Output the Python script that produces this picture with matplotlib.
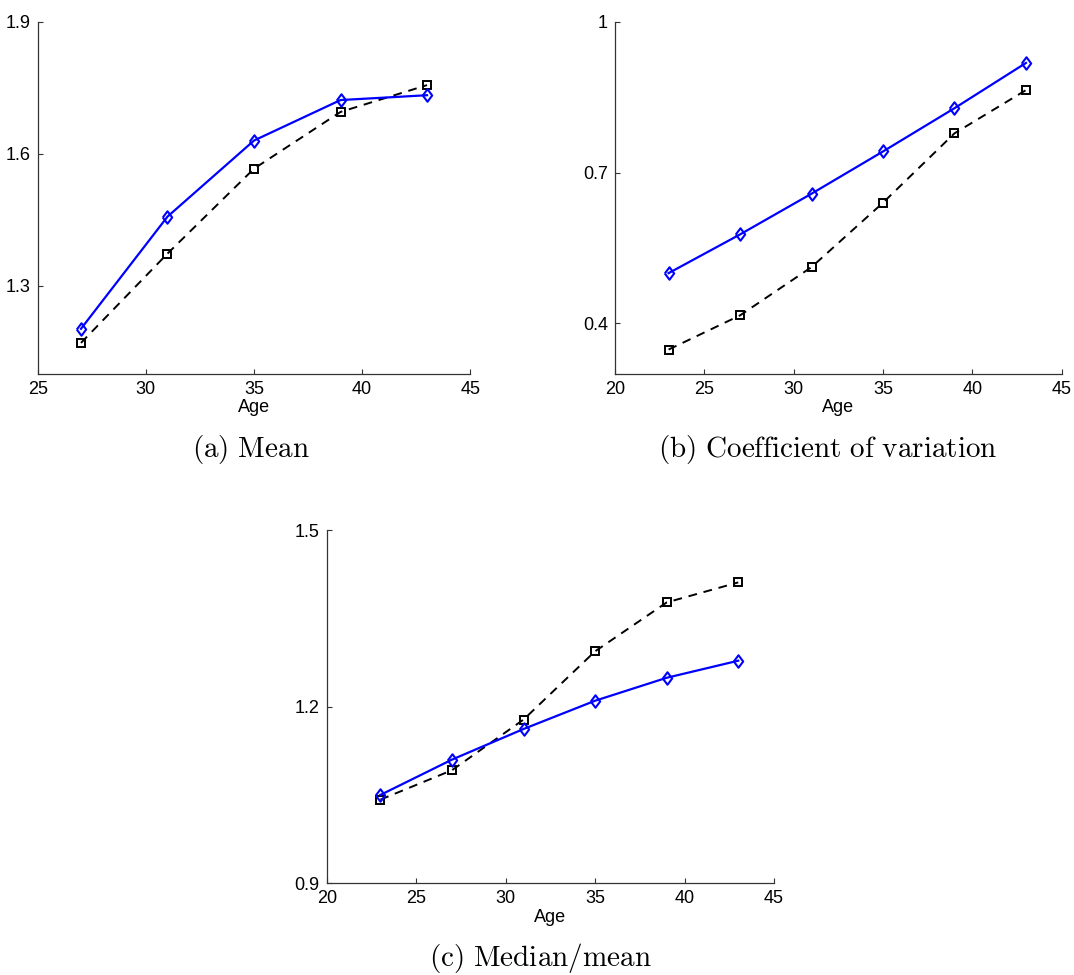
import matplotlib
matplotlib.use("Agg")
import matplotlib.pyplot as plt

plt.rcParams['font.family'] = ['Liberation Sans', 'DejaVu Sans']
plt.rcParams['mathtext.fontset'] = 'cm'

ages_a = [27, 31, 35, 39, 43]
mean_blue = [1.202, 1.457, 1.630, 1.722, 1.733]
mean_black = [1.170, 1.373, 1.566, 1.695, 1.756]

ages_bc = [23, 27, 31, 35, 39, 43]
cv_blue = [0.500, 0.577, 0.658, 0.742, 0.828, 0.918]
cv_black = [0.348, 0.416, 0.512, 0.640, 0.778, 0.864]

mm_blue = [1.050, 1.110, 1.162, 1.210, 1.249, 1.278]
mm_black = [1.042, 1.092, 1.178, 1.294, 1.377, 1.411]

captions = ['(a)\\ Mean', '(b)\\ Coefficient\\ of\\ variation', '(c)\\ Median/mean']

diamond = [(-0.75, 0), (0, 1), (0.75, 0), (0, -1), (-0.75, 0)]

fig = plt.figure(figsize=(10.74, 9.75), dpi=100)

specs = [
    dict(rect=[0.0351, 0.6167, 0.4028, 0.361], x=ages_a, b=mean_blue, k=mean_black,
         xlim=(25, 45), xt=[25, 30, 35, 40, 45], ylim=(1.1, 1.9), yt=[1.3, 1.6, 1.9],
         ytl=['1.3', '1.6', '1.9'], cpos=(251, 449)),
    dict(rect=[0.5726, 0.6167, 0.4159, 0.361], x=ages_bc, b=cv_blue, k=cv_black,
         xlim=(20, 45), xt=[20, 25, 30, 35, 40, 45], ylim=(0.3, 1.0), yt=[0.4, 0.7, 1.0],
         ytl=['0.4', '0.7', '1'], cpos=(828, 449)),
    dict(rect=[0.3042, 0.0941, 0.4165, 0.3623], x=ages_bc, b=mm_blue, k=mm_black,
         xlim=(20, 45), xt=[20, 25, 30, 35, 40, 45], ylim=(0.9, 1.5), yt=[0.9, 1.2, 1.5],
         ytl=['0.9', '1.2', '1.5'], cpos=(540, 958)),
]

for s, cap in zip(specs, captions):
    ax = fig.add_axes(s['rect'])
    ax.plot(s['x'], s['k'], color='black', linestyle=(0, (4.5, 3.5)), linewidth=1.4,
            marker='s', markersize=5.5, markerfacecolor='none', markeredgewidth=1.4,
            markeredgecolor='black')
    ax.plot(s['x'], s['b'], color='#0000ff', linestyle='-', linewidth=1.6,
            marker=diamond, markersize=9, markerfacecolor='none', markeredgewidth=1.5,
            markeredgecolor='#0000ff')
    ax.set_xlim(*s['xlim'])
    ax.set_ylim(*s['ylim'])
    ax.set_xticks(s['xt'])
    ax.set_yticks(s['yt'])
    ax.set_yticklabels(s['ytl'])
    for sp in ['top', 'right']:
        ax.spines[sp].set_visible(False)
    for sp in ['left', 'bottom']:
        ax.spines[sp].set_color('#333333')
        ax.spines[sp].set_linewidth(0.9)
    ax.tick_params(direction='in', length=3.5, width=0.8, color='#333333',
                   labelsize=13, pad=5)
    ax.set_xlabel('Age', fontsize=13, labelpad=1)
    cx, cy = s['cpos']
    fig.text(cx / 1074, 1 - cy / 975, '$\\mathrm{' + cap + '}$',
             ha='center', va='center', fontsize=21)

fig.savefig('out.png', dpi=100)
